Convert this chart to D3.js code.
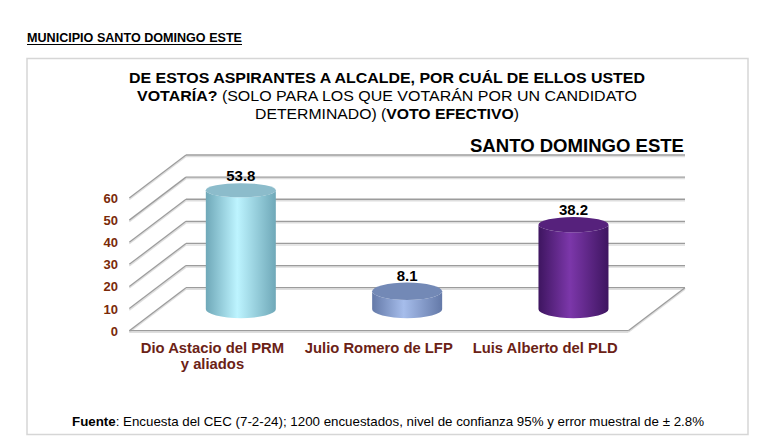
<!DOCTYPE html>
<html>
<head>
<meta charset="utf-8">
<script src="https://cdn.jsdelivr.net/npm/d3@7"></script>
<style>
  body { margin: 0; background: #fff; }
  svg { display: block; font-family: "Liberation Sans", Arial, sans-serif; }
</style>
</head>
<body>
<svg id="chart" width="768" height="444"></svg>
<script>
// data
var categories = ["Dio Astacio del PRM|y aliados", "Julio Romero de LFP", "Luis Alberto del PLD"];
var values = [53.8, 8.1, 38.2];
var tickValues = [0, 10, 20, 30, 40, 50, 60];
var barColors = [
    { edge: "#6fa8b8", mid: "#bdf4ff", top: "#8cbccb" },
    { edge: "#6479a8", mid: "#a6bdeb", top: "#7389b6" },
    { edge: "#3e1560", mid: "#7c37aa", top: "#56217c" }
];

var svg = d3.select("#chart");
var defs = svg.append("defs");

// page heading
svg.append("text")
    .attr("x", 27).attr("y", 42)
    .attr("font-size", 12).attr("font-weight", "bold")
    .attr("textLength", 215).attr("lengthAdjust", "spacingAndGlyphs")
    .text("MUNICIPIO SANTO DOMINGO ESTE");
svg.append("line")
    .attr("x1", 27).attr("x2", 242).attr("y1", 44.5).attr("y2", 44.5)
    .attr("stroke", "#000").attr("stroke-width", 1.2);

// frame
svg.append("rect")
    .attr("x", 27).attr("y", 58.5).attr("width", 721).attr("height", 376)
    .attr("fill", "#fff").attr("stroke", "#d6d6d6").attr("stroke-width", 1.5);

// title
var title = [
    [{ t: "DE ESTOS ASPIRANTES A ALCALDE, POR CUÁL DE ELLOS USTED", b: true }],
    [{ t: "VOTARÍA? ", b: true }, { t: "(SOLO PARA LOS QUE VOTARÁN POR UN CANDIDATO", b: false }],
    [{ t: "DETERMINADO) (", b: false }, { t: "VOTO EFECTIVO", b: true }, { t: ")", b: false }]
];
var titleLen = [516, 500, 264];
title.forEach(function (line, i) {
    var tx = svg.append("text")
        .attr("x", 387).attr("y", 83 + i * 18)
        .attr("text-anchor", "middle")
        .attr("font-size", 15)
        .attr("textLength", titleLen[i]).attr("lengthAdjust", "spacingAndGlyphs");
    line.forEach(function (p) {
        tx.append("tspan").attr("font-weight", p.b ? "bold" : "normal").text(p.t);
    });
});

svg.append("text")
    .attr("x", 684).attr("y", 152)
    .attr("text-anchor", "end")
    .attr("font-size", 19).attr("font-weight", "bold")
    .attr("textLength", 214).attr("lengthAdjust", "spacingAndGlyphs")
    .text("SANTO DOMINGO ESTE");

// 3d geometry
var backLeft = 186, backRight = 685;
var depth = { dx: -56.7, dy: 43 };

var yBack = d3.scaleLinear().domain([0, 60]).range([287.7, 155]);

var xBack = d3.scaleBand()
    .domain(categories)
    .range([backLeft, backRight])
    .paddingInner(0).paddingOuter(0);

function gridLine(x1, y1, x2, y2) {
    svg.append("line")
        .attr("x1", x1).attr("y1", y1 + 1.5).attr("x2", x2).attr("y2", y2 + 1.5)
        .attr("stroke", "#dedede").attr("stroke-width", 1.5);
    svg.append("line")
        .attr("x1", x1).attr("y1", y1).attr("x2", x2).attr("y2", y2)
        .attr("stroke", "#9c9c9c").attr("stroke-width", 1.3);
}

// back wall and side wall grid
tickValues.forEach(function (v) {
    var y = yBack(v);
    gridLine(backLeft + depth.dx, y + depth.dy, backLeft, y);
    gridLine(backLeft, y, backRight, y);
});
// floor
gridLine(backLeft + depth.dx, yBack(0) + depth.dy, backRight + depth.dx, yBack(0) + depth.dy);
gridLine(backRight, yBack(0), backRight + depth.dx, yBack(0) + depth.dy);

// y tick labels
svg.append("g").selectAll("text")
    .data(tickValues)
    .enter()
    .append("text")
    .attr("x", 118)
    .attr("y", function (d) { return yBack(d) + depth.dy + 5; })
    .attr("text-anchor", "end")
    .attr("font-size", 13).attr("font-weight", "bold")
    .attr("fill", "#7a2a08")
    .text(function (d) { return d; });

// cylinders
var barW = 70;
function ry(y) { return 4 + 0.016 * y; }

categories.forEach(function (c, i) {
    var cx = xBack(c) + xBack.bandwidth() / 2 + depth.dx / 2;
    var yTop = yBack(values[i]) + depth.dy / 2;
    var yBot = yBack(0) + depth.dy / 2;
    var col = barColors[i];

    var gid = "cyl" + i;
    var g = defs.append("linearGradient").attr("id", gid)
        .attr("x1", "0%").attr("x2", "100%").attr("y1", "0%").attr("y2", "0%");
    g.append("stop").attr("offset", "0%").attr("stop-color", col.edge);
    g.append("stop").attr("offset", "45%").attr("stop-color", col.mid);
    g.append("stop").attr("offset", "100%").attr("stop-color", col.edge);

    var rx = barW / 2, rt = ry(yTop), rb = ry(yBot);
    var body = "M" + (cx - rx) + "," + yTop +
        " L" + (cx - rx) + "," + yBot +
        " A" + rx + "," + rb + " 0 0 0 " + (cx + rx) + "," + yBot +
        " L" + (cx + rx) + "," + yTop +
        " A" + rx + "," + rt + " 0 0 1 " + (cx - rx) + "," + yTop + "Z";
    svg.append("path").attr("d", body).attr("fill", "url(#" + gid + ")");
    svg.append("ellipse")
        .attr("cx", cx).attr("cy", yTop).attr("rx", rx).attr("ry", rt)
        .attr("fill", col.top);

    svg.append("text")
        .attr("x", cx).attr("y", yTop - rt - 2)
        .attr("text-anchor", "middle")
        .attr("font-size", 15).attr("font-weight", "bold")
        .text(values[i]);

    // category label at front edge
    var fx = xBack(c) + xBack.bandwidth() / 2 + depth.dx;
    var lab = svg.append("text")
        .attr("x", fx).attr("y", 353)
        .attr("text-anchor", "middle")
        .attr("font-size", 14.8).attr("font-weight", "bold")
        .attr("fill", "#6b2216");
    c.split("|").forEach(function (s, k) {
        lab.append("tspan").attr("x", fx).attr("dy", k === 0 ? 0 : 15.5).text(s);
    });
});

// footer
var foot = svg.append("text")
    .attr("x", 388).attr("y", 426)
    .attr("text-anchor", "middle")
    .attr("font-size", 13)
    .attr("textLength", 632).attr("lengthAdjust", "spacingAndGlyphs");
foot.append("tspan").attr("font-weight", "bold").text("Fuente");
foot.append("tspan").text(": Encuesta del CEC (7-2-24); 1200 encuestados, nivel de confianza 95% y error muestral de ± 2.8%");
</script>
</body>
</html>
